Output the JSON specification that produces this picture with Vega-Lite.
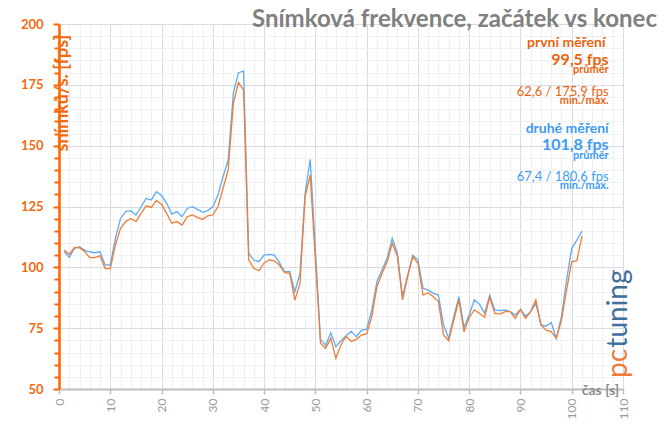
{
  "$schema": "https://vega.github.io/schema/vega-lite/v6.json",
  "width": 564,
  "height": 365,
  "autosize": "none",
  "padding": {"left": 59, "top": 24, "right": 41, "bottom": 35},
  "background": "white",
  "config": {"view": {"stroke": null}, "font": "Lato", "axis": {"labelOverlap": false}},
  "title": {
    "text": "Snímková frekvence, začátek vs konec",
    "anchor": "end",
    "frame": "group",
    "font": "Lato",
    "fontSize": 24,
    "fontWeight": "bold",
    "color": "#808080",
    "baseline": "alphabetic",
    "offset": 0,
    "dx": 34,
    "dy": 33
  },
  "datasets": {
    "fps": [
      {"t": 1, "prvni": 107.1, "druhe": 106.4},
      {"t": 2, "prvni": 105.3, "druhe": 104.1},
      {"t": 3, "prvni": 108.2, "druhe": 107.8},
      {"t": 4, "prvni": 108.0, "druhe": 108.5},
      {"t": 5, "prvni": 106.5, "druhe": 107.0},
      {"t": 6, "prvni": 104.0, "druhe": 106.4},
      {"t": 7, "prvni": 104.0, "druhe": 106.0},
      {"t": 8, "prvni": 104.7, "druhe": 106.4},
      {"t": 9, "prvni": 99.5, "druhe": 101.0},
      {"t": 10, "prvni": 99.5, "druhe": 101.0},
      {"t": 11, "prvni": 109.2, "druhe": 111.9},
      {"t": 12, "prvni": 116.0, "druhe": 120.1},
      {"t": 13, "prvni": 118.8, "druhe": 122.9},
      {"t": 14, "prvni": 120.1, "druhe": 123.3},
      {"t": 15, "prvni": 118.8, "druhe": 121.5},
      {"t": 16, "prvni": 122.2, "druhe": 124.9},
      {"t": 17, "prvni": 125.3, "druhe": 128.3},
      {"t": 18, "prvni": 124.6, "druhe": 127.7},
      {"t": 19, "prvni": 127.4, "druhe": 131.1},
      {"t": 20, "prvni": 125.9, "druhe": 129.5},
      {"t": 21, "prvni": 122.2, "druhe": 126.3},
      {"t": 22, "prvni": 118.1, "druhe": 121.9},
      {"t": 23, "prvni": 118.8, "druhe": 122.9},
      {"t": 24, "prvni": 117.4, "druhe": 120.8},
      {"t": 25, "prvni": 120.8, "druhe": 124.2},
      {"t": 26, "prvni": 121.5, "druhe": 124.9},
      {"t": 27, "prvni": 120.5, "druhe": 123.8},
      {"t": 28, "prvni": 119.7, "druhe": 122.6},
      {"t": 29, "prvni": 121.2, "druhe": 123.3},
      {"t": 30, "prvni": 121.5, "druhe": 124.9},
      {"t": 31, "prvni": 124.9, "druhe": 129.7},
      {"t": 32, "prvni": 132.5, "druhe": 137.3},
      {"t": 33, "prvni": 140.0, "druhe": 144.1},
      {"t": 34, "prvni": 167.4, "druhe": 171.5},
      {"t": 35, "prvni": 175.9, "druhe": 180.0},
      {"t": 36, "prvni": 172.9, "druhe": 180.6},
      {"t": 37, "prvni": 103.0, "druhe": 105.7},
      {"t": 38, "prvni": 99.6, "druhe": 103.0},
      {"t": 39, "prvni": 98.6, "druhe": 102.3},
      {"t": 40, "prvni": 101.8, "druhe": 105.0},
      {"t": 41, "prvni": 103.0, "druhe": 105.3},
      {"t": 42, "prvni": 102.7, "druhe": 105.0},
      {"t": 43, "prvni": 100.9, "druhe": 101.9},
      {"t": 44, "prvni": 97.8, "druhe": 98.2},
      {"t": 45, "prvni": 97.5, "druhe": 98.2},
      {"t": 46, "prvni": 86.5, "druhe": 90.0},
      {"t": 47, "prvni": 93.4, "druhe": 97.5},
      {"t": 48, "prvni": 129.0, "druhe": 130.4},
      {"t": 49, "prvni": 137.9, "druhe": 144.4},
      {"t": 50, "prvni": 103.2, "druhe": 107.4},
      {"t": 51, "prvni": 68.8, "druhe": 70.4},
      {"t": 52, "prvni": 66.7, "druhe": 68.0},
      {"t": 53, "prvni": 70.8, "druhe": 73.0},
      {"t": 54, "prvni": 62.6, "druhe": 67.4},
      {"t": 55, "prvni": 68.2, "druhe": 69.8},
      {"t": 56, "prvni": 71.7, "druhe": 71.9},
      {"t": 57, "prvni": 69.5, "druhe": 73.7},
      {"t": 58, "prvni": 70.4, "druhe": 71.5},
      {"t": 59, "prvni": 72.2, "druhe": 74.2},
      {"t": 60, "prvni": 72.6, "druhe": 74.5},
      {"t": 61, "prvni": 79.7, "druhe": 82.4},
      {"t": 62, "prvni": 92.0, "druhe": 94.1},
      {"t": 63, "prvni": 97.5, "druhe": 98.9},
      {"t": 64, "prvni": 102.3, "druhe": 103.7},
      {"t": 65, "prvni": 109.9, "druhe": 111.9},
      {"t": 66, "prvni": 104.4, "druhe": 105.7},
      {"t": 67, "prvni": 86.6, "druhe": 87.9},
      {"t": 68, "prvni": 96.2, "druhe": 96.8},
      {"t": 69, "prvni": 104.4, "druhe": 105.0},
      {"t": 70, "prvni": 101.6, "druhe": 103.0},
      {"t": 71, "prvni": 88.6, "druhe": 91.4},
      {"t": 72, "prvni": 89.6, "druhe": 90.7},
      {"t": 73, "prvni": 87.9, "druhe": 89.3},
      {"t": 74, "prvni": 85.9, "druhe": 88.6},
      {"t": 75, "prvni": 72.2, "druhe": 76.3},
      {"t": 76, "prvni": 69.8, "druhe": 70.8},
      {"t": 77, "prvni": 78.3, "druhe": 79.7},
      {"t": 78, "prvni": 86.6, "druhe": 87.9},
      {"t": 79, "prvni": 73.5, "druhe": 75.3},
      {"t": 80, "prvni": 79.4, "druhe": 80.4},
      {"t": 81, "prvni": 82.5, "druhe": 86.6},
      {"t": 82, "prvni": 81.1, "druhe": 84.9},
      {"t": 83, "prvni": 79.4, "druhe": 81.1},
      {"t": 84, "prvni": 87.7, "druhe": 88.6},
      {"t": 85, "prvni": 81.1, "druhe": 82.5},
      {"t": 86, "prvni": 80.8, "druhe": 82.2},
      {"t": 87, "prvni": 81.8, "druhe": 82.5},
      {"t": 88, "prvni": 81.8, "druhe": 81.8},
      {"t": 89, "prvni": 79.0, "druhe": 80.4},
      {"t": 90, "prvni": 82.7, "druhe": 82.7},
      {"t": 91, "prvni": 79.0, "druhe": 80.0},
      {"t": 92, "prvni": 81.8, "druhe": 81.8},
      {"t": 93, "prvni": 86.6, "druhe": 85.2},
      {"t": 94, "prvni": 76.3, "druhe": 76.3},
      {"t": 95, "prvni": 74.2, "druhe": 75.9},
      {"t": 96, "prvni": 73.6, "druhe": 77.3},
      {"t": 97, "prvni": 70.8, "druhe": 70.8},
      {"t": 98, "prvni": 78.3, "druhe": 79.7},
      {"t": 99, "prvni": 90.7, "druhe": 94.8},
      {"t": 100, "prvni": 102.3, "druhe": 107.8},
      {"t": 101, "prvni": 102.7, "druhe": 111.2},
      {"t": 102, "prvni": 112.9, "druhe": 114.9}
    ]
  },
  "resolve": {"axis": {"x": "independent", "y": "independent"}},
  "layer": [
    {
      "data": {"name": "fps"},
      "transform": [{"fold": ["druhe", "prvni"], "as": ["series", "fps"]}],
      "mark": {"type": "point", "opacity": 0},
      "encoding": {
        "x": {
          "field": "t",
          "type": "quantitative",
          "scale": {"domain": [0, 110], "nice": false, "zero": false},
          "axis": {
            "orient": "bottom",
            "values": [2,4,6,8,12,14,16,18,22,24,26,28,32,34,36,38,42,44,46,48,52,54,56,58,62,64,66,68,72,74,76,78,82,84,86,88,92,94,96,98,102,104,106,108],
            "labels": false,
            "ticks": false,
            "domain": false,
            "grid": true,
            "gridColor": "#eef0f4",
            "title": null
          }
        },
        "y": {
          "field": "fps",
          "type": "quantitative",
          "scale": {"domain": [50, 200], "nice": false, "zero": false},
          "axis": {
            "orient": "left",
            "values": [55,60,65,70,80,85,90,95,105,110,115,120,130,135,140,145,155,160,165,170,180,185,190,195],
            "labels": false,
            "ticks": true,
            "tickColor": "#ff6400",
            "tickSize": 5,
            "tickWidth": 2,
            "domain": false,
            "grid": true,
            "gridColor": "#eef0f4",
            "title": null
          }
        }
      }
    },
    {
      "data": {"name": "fps"},
      "transform": [{"fold": ["druhe", "prvni"], "as": ["series", "fps"]}],
      "mark": {"type": "line", "strokeWidth": 1.3},
      "encoding": {
        "x": {
          "field": "t",
          "type": "quantitative",
          "scale": {"domain": [0, 110], "nice": false, "zero": false},
          "axis": {
            "orient": "bottom",
            "values": [0,10,20,30,40,50,60,70,80,90,100,110],
            "labelAngle": 270,
            "labelAlign": "right",
            "labelBaseline": "middle",
            "labelColor": "#9a9a9a",
            "labelFont": "Lato",
            "labelFontSize": 12,
            "labelPadding": 4,
            "labelOverlap": false,
            "labelFlush": false,
            "grid": true,
            "gridColor": "#d8dbe4",
            "domainColor": "#bdbdbd",
            "domainWidth": 2,
            "tickColor": "#bdbdbd",
            "tickSize": 5,
            "tickWidth": 1.5,
            "title": "čas [s]",
            "titleColor": "#8c8c8c",
            "titleFont": "Lato",
            "titleFontSize": 14,
            "titleFontWeight": "bold",
            "titleX": 541,
            "titleY": 1,
            "titleAlign": "center",
            "titleBaseline": "middle"
          }
        },
        "y": {
          "field": "fps",
          "type": "quantitative",
          "scale": {"domain": [50, 200], "nice": false, "zero": false},
          "axis": {
            "orient": "left",
            "values": [50,75,100,125,150,175,200],
            "labelColor": "#f26a10",
            "labelFont": "Lato",
            "labelFontSize": 13,
            "labelFontWeight": "bold",
            "labelPadding": 10,
            "labelOverlap": false,
            "labelFlush": false,
            "grid": true,
            "gridColor": "#d8dbe4",
            "domainColor": "#ff6400",
            "domainWidth": 2.5,
            "tickColor": "#ff6400",
            "tickSize": 6,
            "tickWidth": 2,
            "title": "snímků/s. [fps]",
            "titleColor": "#f26a10",
            "titleFont": "Lato",
            "titleFontSize": 18,
            "titleFontWeight": "bold",
            "titleAngle": 270,
            "titleX": 3,
            "titleY": 127,
            "titleAlign": "left",
            "titleBaseline": "middle"
          }
        },
        "color": {
          "field": "series",
          "type": "nominal",
          "scale": {"domain": ["druhe", "prvni"], "range": ["#5eabf5", "#f27c34"]},
          "legend": null
        }
      }
    },
    {
      "data": {"values": [{"label": "první měření"}]},
      "mark": {"type": "text", "align": "right", "baseline": "middle", "font": "Lato", "fontSize": 14, "fontWeight": "bold", "color": "#ea640e"},
      "encoding": {"x": {"datum": 106.6, "axis": null}, "y": {"datum": 192.1, "axis": null}, "text": {"field": "label"}}
    },
    {
      "data": {"values": [{"label": "99,5 fps"}]},
      "mark": {"type": "text", "align": "right", "baseline": "middle", "font": "Lato", "fontSize": 16, "fontWeight": "bold", "color": "#ea640e"},
      "encoding": {"x": {"datum": 107.2, "axis": null}, "y": {"datum": 185.2, "axis": null}, "text": {"field": "label"}}
    },
    {
      "data": {"values": [{"label": "průměr"}]},
      "mark": {"type": "text", "align": "right", "baseline": "middle", "font": "Lato", "fontSize": 11, "fontWeight": "bold", "color": "#ea640e"},
      "encoding": {"x": {"datum": 107.2, "axis": null}, "y": {"datum": 181.1, "axis": null}, "text": {"field": "label"}}
    },
    {
      "data": {"values": [{"label": "62,6 / 175,9 fps"}]},
      "mark": {"type": "text", "align": "right", "baseline": "middle", "font": "Lato", "fontSize": 13, "color": "#ea640e"},
      "encoding": {"x": {"datum": 107.2, "axis": null}, "y": {"datum": 172.2, "axis": null}, "text": {"field": "label"}}
    },
    {
      "data": {"values": [{"label": "min./max."}]},
      "mark": {"type": "text", "align": "right", "baseline": "middle", "font": "Lato", "fontSize": 11, "fontWeight": "bold", "color": "#ea640e"},
      "encoding": {"x": {"datum": 107.2, "axis": null}, "y": {"datum": 168.4, "axis": null}, "text": {"field": "label"}}
    },
    {
      "data": {"values": [{"label": "druhé měření"}]},
      "mark": {"type": "text", "align": "right", "baseline": "middle", "font": "Lato", "fontSize": 14, "fontWeight": "bold", "color": "#3d9cf2"},
      "encoding": {"x": {"datum": 107.2, "axis": null}, "y": {"datum": 156.8, "axis": null}, "text": {"field": "label"}}
    },
    {
      "data": {"values": [{"label": "101,8 fps"}]},
      "mark": {"type": "text", "align": "right", "baseline": "middle", "font": "Lato", "fontSize": 16, "fontWeight": "bold", "color": "#3d9cf2"},
      "encoding": {"x": {"datum": 107.2, "axis": null}, "y": {"datum": 150.3, "axis": null}, "text": {"field": "label"}}
    },
    {
      "data": {"values": [{"label": "průměr"}]},
      "mark": {"type": "text", "align": "right", "baseline": "middle", "font": "Lato", "fontSize": 11, "fontWeight": "bold", "color": "#3d9cf2"},
      "encoding": {"x": {"datum": 107.2, "axis": null}, "y": {"datum": 145.9, "axis": null}, "text": {"field": "label"}}
    },
    {
      "data": {"values": [{"label": "67,4 / 180,6 fps"}]},
      "mark": {"type": "text", "align": "right", "baseline": "middle", "font": "Lato", "fontSize": 13, "color": "#3d9cf2"},
      "encoding": {"x": {"datum": 107.2, "axis": null}, "y": {"datum": 137.2, "axis": null}, "text": {"field": "label"}}
    },
    {
      "data": {"values": [{"label": "min./max."}]},
      "mark": {"type": "text", "align": "right", "baseline": "middle", "font": "Lato", "fontSize": 11, "fontWeight": "bold", "color": "#3d9cf2"},
      "encoding": {"x": {"datum": 107.2, "axis": null}, "y": {"datum": 133.5, "axis": null}, "text": {"field": "label"}}
    },
    {
      "data": {"values": [{"label": "pc"}]},
      "mark": {"type": "text", "align": "left", "baseline": "middle", "angle": 270, "font": "Lato", "fontSize": 28, "color": "#ef7a3a"},
      "encoding": {"x": {"datum": 109.2, "axis": null}, "y": {"datum": 54.5, "axis": null}, "text": {"field": "label"}}
    },
    {
      "data": {"values": [{"label": "tuning"}]},
      "mark": {"type": "text", "align": "left", "baseline": "middle", "angle": 270, "font": "Lato", "fontSize": 28, "color": "#3f6f9c"},
      "encoding": {"x": {"datum": 109.2, "axis": null}, "y": {"datum": 67.0, "axis": null}, "text": {"field": "label"}}
    }
  ]
}
